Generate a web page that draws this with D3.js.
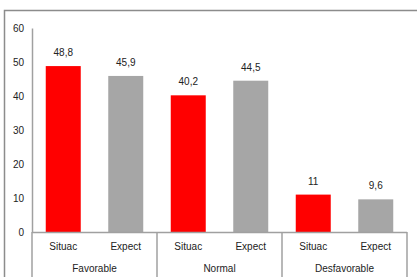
<!DOCTYPE html>
<meta charset="utf-8">
<style>
body { margin: 0; background: #fff; }
svg text { font-family: "Liberation Sans Narrow", "Liberation Sans", Arial, sans-serif; font-size: 10px; fill: #222; }
</style>
<body>
<svg width="417" height="277"></svg>
<script src="https://d3js.org/d3.v7.min.js"></script>
<script>
var categories = ["Favorable", "Normal", "Desfavorable"];
var series = ["Situac", "Expect"];
var situac = [48.8, 40.2, 11];
var expect = [45.9, 44.5, 9.6];
var yTicks = [0, 10, 20, 30, 40, 50, 60];
var colors = ["#ff0000", "#a6a6a6"];

var svg = d3.select("svg");

// marco exterior
svg.append("rect")
    .attr("x", 4.5).attr("y", 10.5)
    .attr("width", 430).attr("height", 300)
    .attr("fill", "none")
    .attr("stroke", "#8c8c8c")
    .attr("stroke-width", 1.5);

var mLeft = 32, mRight = 407, mTop = 28, mBottom = 232;

var x0 = d3.scaleBand().domain(categories).range([mLeft, mRight]);
var x1 = d3.scaleBand().domain(series).range([0, x0.bandwidth()]).paddingInner(0.44).paddingOuter(0.22);
var y = d3.scaleLinear().domain([0, 60]).range([mBottom, mTop]);

var rows = categories.map(function(c, i) {
  return {cat: c, values: [{s: "Situac", v: situac[i]}, {s: "Expect", v: expect[i]}]};
});

var g = svg.selectAll(".cat")
  .data(rows)
  .enter().append("g")
    .attr("transform", function(d) { return "translate(" + x0(d.cat) + ",0)"; });

g.selectAll("rect")
  .data(function(d) { return d.values; })
  .enter().append("rect")
    .attr("x", function(d) { return x1(d.s); })
    .attr("y", function(d) { return y(d.v); })
    .attr("width", x1.bandwidth())
    .attr("height", function(d) { return y(0) - y(d.v); })
    .attr("fill", function(d, i) { return colors[i]; });

g.selectAll(".lbl")
  .data(function(d) { return d.values; })
  .enter().append("text")
    .attr("class", "lbl")
    .attr("x", function(d) { return x1(d.s) + x1.bandwidth() / 2; })
    .attr("y", function(d) { return y(d.v) - 10; })
    .attr("text-anchor", "middle")
    .text(function(d) { return String(d.v).replace(".", ","); });

// eixo y
var yAxis = svg.append("g")
    .attr("transform", "translate(" + mLeft + ",0)")
    .call(d3.axisLeft(y).tickValues(yTicks).tickSize(0).tickPadding(8));
yAxis.select(".domain").attr("stroke", "#a0a0a0").attr("stroke-width", 1.5);
yAxis.selectAll("text").style("font-size", "10px").attr("fill", "#222");

// eixo x
svg.append("line")
    .attr("x1", mLeft).attr("x2", mRight)
    .attr("y1", mBottom + 0.5).attr("y2", mBottom + 0.5)
    .attr("stroke", "#a0a0a0").attr("stroke-width", 1.5);

var seps = categories.map(function(c) { return x0(c); }).concat([mRight]);
svg.selectAll(".sep")
  .data(seps)
  .enter().append("line")
    .attr("x1", function(d) { return d; }).attr("x2", function(d) { return d; })
    .attr("y1", mBottom).attr("y2", 277)
    .attr("stroke", "#a0a0a0").attr("stroke-width", 1.5);

g.selectAll(".sub")
  .data(function(d) { return d.values; })
  .enter().append("text")
    .attr("x", function(d) { return x1(d.s) + x1.bandwidth() / 2; })
    .attr("y", 250)
    .attr("text-anchor", "middle")
    .text(function(d) { return d.s; });

g.append("text")
    .attr("x", x0.bandwidth() / 2)
    .attr("y", 272)
    .attr("text-anchor", "middle")
    .text(function(d) { return d.cat; });
</script>
</body>
